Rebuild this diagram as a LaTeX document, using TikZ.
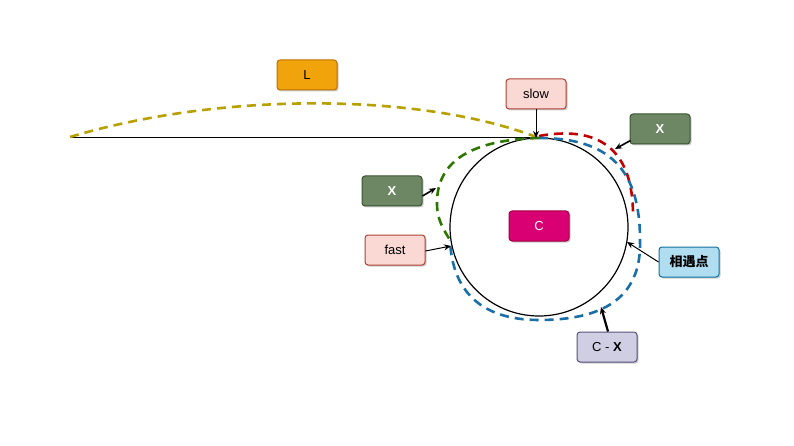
\documentclass[tikz,border=0pt]{standalone}
\usepackage{fontspec}
\setmainfont{Liberation Sans}
\newfontfamily\cjk{Noto Sans CJK SC}
\usetikzlibrary{arrows.meta,shadows}
\definecolor{lfill}{HTML}{F0A30A}\definecolor{ldraw}{HTML}{BD7000}
\definecolor{pfill}{HTML}{FAD9D5}\definecolor{pdraw}{HTML}{AE4132}
\definecolor{gfill}{HTML}{6D8764}\definecolor{gdraw}{HTML}{3A5431}
\definecolor{mfill}{HTML}{D80073}\definecolor{mdraw}{HTML}{A50040}
\definecolor{bfill}{HTML}{B1DDF0}\definecolor{bdraw}{HTML}{10739E}
\definecolor{vfill}{HTML}{D0CEE2}\definecolor{vdraw}{HTML}{56517E}
\definecolor{cyel}{HTML}{B8A000}\definecolor{cred}{HTML}{C00000}
\definecolor{cblue}{HTML}{1A6FA8}\definecolor{cgreen}{HTML}{2D7600}
\tikzset{
  box/.style={rounded corners=3pt, minimum width=60pt, minimum height=30pt, line width=1pt,
    font=\fontsize{13}{15}\selectfont, inner sep=0pt,
    drop shadow={shadow xshift=1.5pt, shadow yshift=-1.5pt, opacity=0.2, fill=black}},
  ptr/.style={-{Stealth[length=7pt,width=6pt]}, line width=1pt},
  dline/.style={line width=2.6pt, dash pattern=on 9pt off 6pt},
}
\begin{document}
\begin{tikzpicture}[x=1pt,y=-1pt]
\useasboundingbox (0,0) rectangle (794,446);
% circle
\node[circle, draw, line width=1.2pt, minimum size=178pt, inner sep=0pt] (circ) at (539,227) {};
\coordinate (top) at (539,138);
\coordinate (left) at (70,138);
\draw[line width=1pt] (left) -- (top);
% dashed paths
\draw[dline, cyel] (70,137) .. controls (220,92) and (420,92) .. (top);
\draw[dline, cred] (539,136) .. controls (600,125) and (633,150) .. (633,215);
\draw[dline, cblue] (top) .. controls (610,138) and (640,170) .. (640,240)
   .. controls (642,300) and (600,320) .. (539,320)
   .. controls (480,320) and (452,290) .. (450,240);
\draw[dline, cgreen] (top) .. controls (465,140) and (436,165) .. (437,205)
   .. controls (437,220) and (445,232) .. (450,240);
% nodes
\node[box, fill=lfill, draw=ldraw] (L) at (307,75) {L};
\node[box, fill=pfill, draw=pdraw] (slow) at (536,94) {slow};
\node[box, fill=gfill, draw=gdraw, text=white, font=\fontsize{13}{15}\selectfont\bfseries] (X1) at (660,129) {X};
\node[box, fill=gfill, draw=gdraw, text=white, font=\fontsize{13}{15}\selectfont\bfseries] (X2) at (392,191) {X};
\node[box, fill=mfill, draw=mdraw, text=white] (C) at (539,226) {C};
\node[box, fill=pfill, draw=pdraw] (fast) at (395,250) {fast};
\node[box, fill=bfill, draw=bdraw, font=\fontsize{13}{15}\selectfont\cjk\bfseries] (meet) at (689,262) {相遇点};
\node[box, fill=vfill, draw=vdraw] (CX) at (607,347) {C - \textbf{X}};
% pointers
\coordinate (pslow) at (536,138);
\coordinate (pX1) at (615,149);
\coordinate (pX2) at (436,188);
\coordinate (pfast) at (451,246);
\coordinate (pmeet) at (627,242);
\coordinate (pCX) at (601,307);
\draw[ptr] (slow.south) -- (pslow);
\draw[ptr, line width=1.6pt] (X1.south west) ++(1,-4) -- (pX1);
\draw[ptr, line width=1.6pt] (X2.east) ++(0,5) -- (pX2);
\draw[ptr] (fast.east) ++(0,1) -- (pfast);
\draw[ptr] (meet.west) -- (pmeet);
\draw[ptr, line width=2.2pt] (CX.north) ++(1,0) -- (pCX);
\end{tikzpicture}
\end{document}
